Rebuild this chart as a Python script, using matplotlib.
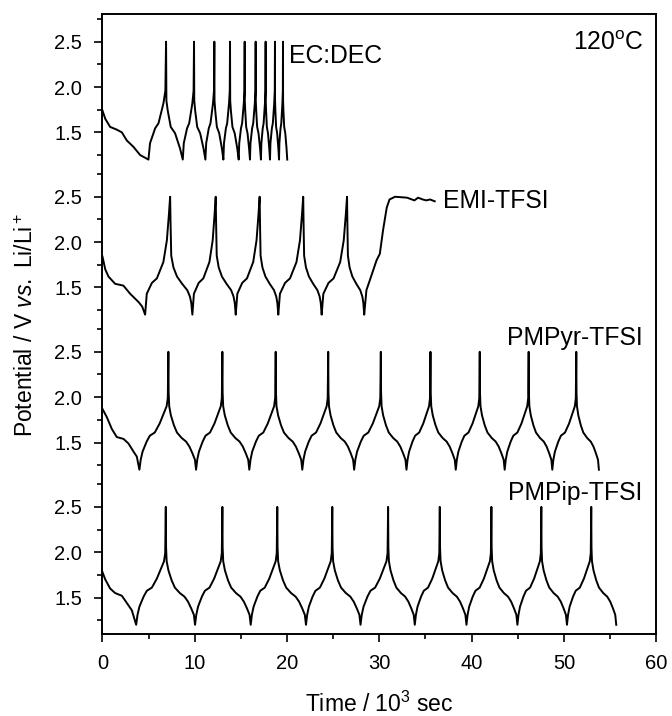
import matplotlib
matplotlib.use("Agg")
import matplotlib.pyplot as plt
from matplotlib.ticker import MultipleLocator

plt.rcParams["font.family"] = ["Liberation Sans", "DejaVu Sans"]
plt.rcParams["mathtext.fontset"] = "custom"
plt.rcParams["mathtext.rm"] = "Liberation Sans"
plt.rcParams["mathtext.it"] = "Liberation Sans:italic"

# turning points (time in 10^3 s)
ecdec_first_t = [0, 0.3, 0.83, 1.55, 2.1, 2.64, 3.36, 4.08, 4.98]
ecdec_first_v = [1.74, 1.65, 1.56, 1.53, 1.50, 1.41, 1.34, 1.25, 1.2]
ecdec_min = [4.98, 8.70, 11.15, 13.10, 14.76, 15.98, 17.17, 18.15, 19.13, 20.02]
ecdec_max = [6.89, 9.92, 12.12, 13.82, 15.41, 16.60, 17.68, 18.69, 19.56]
ecdec_up_f = [0, 0.09, 0.38, 0.57, 0.85, 0.96, 1]
ecdec_up_v = [1.2, 1.38, 1.545, 1.60, 1.82, 1.96, 2.5]
ecdec_dn_f = [0, 0.02, 0.10, 0.28, 0.54, 0.84, 1]
ecdec_dn_v = [2.5, 1.85, 1.74, 1.56, 1.49, 1.32, 1.2]

emi_first_t = [0, 0.3, 0.65, 1.37, 2.27, 3.0, 3.9, 4.3, 4.62]
emi_first_v = [1.84, 1.70, 1.62, 1.54, 1.52, 1.43, 1.34, 1.29, 1.2]
emi_min = [4.62, 9.74, 14.44, 19.05, 23.75, 28.36]
emi_max = [7.33, 12.27, 17.03, 21.75, 26.5]
emi_up_f = [0, 0.066, 0.27, 0.47, 0.73, 0.87, 0.95, 1]
emi_up_v = [1.2, 1.43, 1.55, 1.60, 1.78, 2.02, 2.3, 2.5]
emi_dn_f = [0, 0.02, 0.05, 0.15, 0.31, 0.54, 0.77, 0.89, 0.95, 1]
emi_dn_v = [2.5, 2.2, 1.85, 1.72, 1.62, 1.54, 1.47, 1.40, 1.33, 1.2]
emi_tail_t = [28.6, 28.97, 29.7, 30.05, 30.4, 30.8, 31.1, 31.7, 33.0, 33.8, 34.2, 34.7, 35.1, 35.5, 36.0]
emi_tail_v = [1.47, 1.58, 1.80, 1.87, 2.13, 2.38, 2.47, 2.5, 2.49, 2.46, 2.49, 2.47, 2.46, 2.47, 2.45]

pyr_first_t = [0, 0.47, 1.01, 1.55, 2.27, 2.81, 3.36, 3.72, 4.0]
pyr_first_v = [1.87, 1.78, 1.65, 1.56, 1.54, 1.49, 1.40, 1.345, 1.2]
pyr_min = [4.0, 10.14, 15.91, 21.65, 27.27, 32.94, 38.28, 43.58, 48.74, 53.79]
pyr_max = [7.14, 12.99, 18.77, 24.46, 30.16, 35.54, 40.88, 46.18, 51.34]

pip_first_t = [0, 0.3, 0.83, 1.37, 2.1, 2.64, 3.18, 3.65]
pip_first_v = [1.78, 1.70, 1.60, 1.55, 1.52, 1.44, 1.36, 1.2]
pip_min = [3.65, 10.03, 16.06, 22.05, 27.96, 33.84, 39.44, 44.96, 50.33, 55.67]
pip_max = [6.86, 12.99, 18.94, 24.9, 30.95, 36.55, 42.14, 47.55, 52.96]

# ionic liquid (PMPyr / PMPip) cycle shape
il_up_f = [0, 0.045, 0.11, 0.25, 0.36, 0.53, 0.70, 0.865, 0.94, 0.98, 1]
il_up_v = [1.2, 1.31, 1.40, 1.51, 1.575, 1.61, 1.71, 1.84, 1.90, 1.99, 2.5]
il_dn_f = [0, 0.01, 0.03, 0.09, 0.2, 0.31, 0.48, 0.64, 0.76, 0.87, 0.96, 1]
il_dn_v = [2.5, 2.05, 1.9, 1.80, 1.69, 1.61, 1.55, 1.51, 1.455, 1.38, 1.31, 1.2]


def trace(first_t, first_v, mins, peaks, up_f, up_v, dn_f, dn_v):
    t, v = list(first_t), list(first_v)
    for lo, hi, nxt in zip(mins, peaks, mins[1:]):
        t += [lo + f * (hi - lo) for f in up_f[1:]]
        v += up_v[1:]
        t += [hi + f * (nxt - hi) for f in dn_f[1:]]
        v += dn_v[1:]
    return t, v


curves = [
    trace(ecdec_first_t, ecdec_first_v, ecdec_min, ecdec_max, ecdec_up_f, ecdec_up_v, ecdec_dn_f, ecdec_dn_v),
    trace(emi_first_t, emi_first_v, emi_min, emi_max, emi_up_f, emi_up_v, emi_dn_f, emi_dn_v),
    trace(pyr_first_t, pyr_first_v, pyr_min, pyr_max, il_up_f, il_up_v, il_dn_f, il_dn_v),
    trace(pip_first_t, pip_first_v, pip_min, pip_max, il_up_f, il_up_v, il_dn_f, il_dn_v),
]
curves[1] = (curves[1][0] + emi_tail_t, curves[1][1] + emi_tail_v)

names = ["EC:DEC", "EMI-TFSI", "PMPyr-TFSI", "PMPip-TFSI"]
label_pos = [(20.24, 2.26, "left"), (36.9, 2.38, "left"), (58.55, 2.574, "right"), (58.55, 2.58, "right")]

fig, axes = plt.subplots(4, 1, sharex=True, figsize=(6.72, 7.16), dpi=100)
fig.subplots_adjust(left=0.1525, right=0.9765, top=0.9804, bottom=0.1141, hspace=0)

for i, ax in enumerate(axes):
    t, v = curves[i]
    ax.plot(t, v, color="black", lw=1.4)
    ax.set_ylim(1.095, 2.805)
    ax.set_xlim(0, 60)
    ax.yaxis.set_major_locator(MultipleLocator(0.5))
    ax.yaxis.set_minor_locator(MultipleLocator(0.25))
    ax.tick_params(axis="y", which="both", direction="out", labelsize=14.5, pad=9, width=1.2)
    ax.tick_params(axis="y", which="major", length=5.5)
    ax.tick_params(axis="y", which="minor", length=3.5)
    for s in ax.spines.values():
        s.set_linewidth(1.4)
    if i > 0:
        ax.spines["top"].set_visible(False)
    if i < 3:
        ax.spines["bottom"].set_visible(False)
        ax.tick_params(axis="x", which="both", bottom=False, labelbottom=False)
    x, y, ha = label_pos[i]
    ax.text(x, y, names[i], ha=ha, va="baseline", fontsize=17.8)

ax = axes[-1]
ax.xaxis.set_major_locator(MultipleLocator(10))
ax.xaxis.set_minor_locator(MultipleLocator(5))
ax.tick_params(axis="x", which="both", direction="out", labelsize=14.5, pad=9, width=1.2)
ax.tick_params(axis="x", which="major", length=5.5)
ax.tick_params(axis="x", which="minor", length=3.5)

axes[0].text(58.7, 2.41, "120$^{\\rm o}$C", ha="right", va="baseline", fontsize=17.8)

fig.text(0.039, 0.547, "Potential / V $\\it{vs.}$ Li/Li$^+$", rotation=90, ha="center", va="center", fontsize=16.5)
fig.text(0.565, 0.006, "Time / 10$^3$ sec", ha="center", va="baseline", fontsize=16.5)

fig.savefig("out.png", dpi=100)
